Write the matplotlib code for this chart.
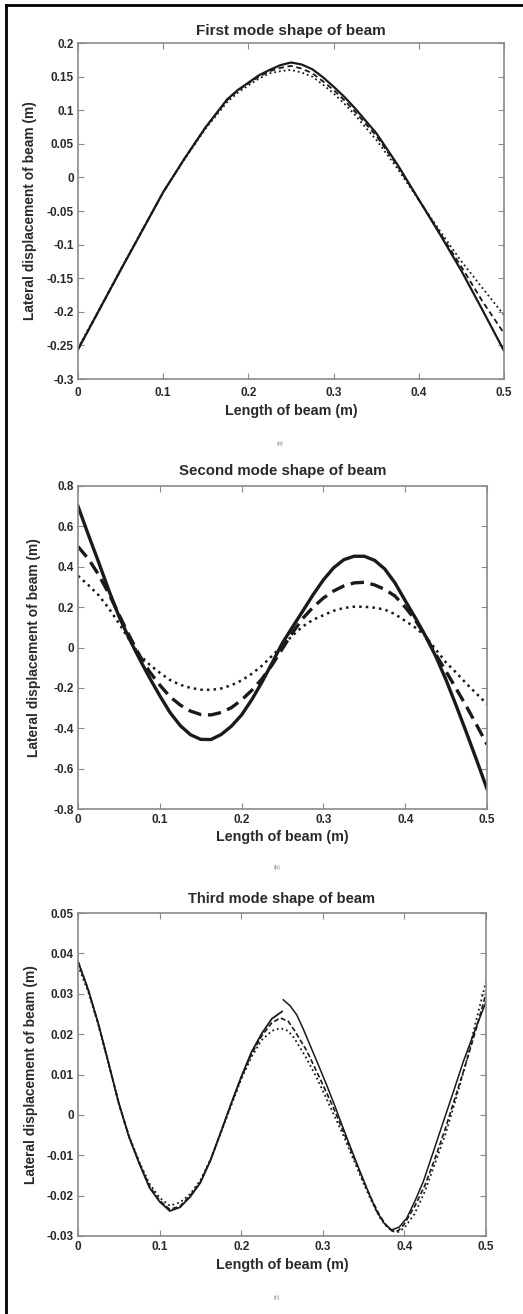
import matplotlib
matplotlib.use('Agg')
import matplotlib.pyplot as plt
from matplotlib.lines import Line2D

plt.rcParams['font.family'] = ['Liberation Sans', 'DejaVu Sans']
plt.rcParams['axes.unicode_minus'] = False

# ---- data ----
# (a) first mode
x_a = [0, 0.025, 0.05, 0.075, 0.1, 0.125, 0.15, 0.175, 0.1875, 0.2, 0.2125, 0.225, 0.2375, 0.25,
       0.2625, 0.275, 0.2875, 0.3, 0.3125, 0.325, 0.35, 0.375, 0.4, 0.425, 0.45, 0.475, 0.5]
a_solid = [-0.256, -0.197, -0.138, -0.080, -0.022, 0.028, 0.075, 0.116, 0.130, 0.141, 0.152, 0.160, 0.167, 0.171,
           0.168, 0.161, 0.149, 0.135, 0.120, 0.103, 0.066, 0.019, -0.033, -0.085, -0.139, -0.198, -0.258]
a_dash = [-0.256, -0.197, -0.138, -0.080, -0.022, 0.028, 0.075, 0.115, 0.129, 0.140, 0.150, 0.158, 0.163, 0.166,
          0.162, 0.155, 0.143, 0.130, 0.115, 0.098, 0.062, 0.017, -0.033, -0.083, -0.133, -0.185, -0.232]
a_dot = [-0.254, -0.196, -0.137, -0.079, -0.022, 0.027, 0.073, 0.112, 0.126, 0.137, 0.147, 0.155, 0.158, 0.160,
         0.156, 0.150, 0.138, 0.125, 0.110, 0.093, 0.056, 0.013, -0.034, -0.080, -0.125, -0.165, -0.205]

# (b) second mode
x_b = [0, 0.0125, 0.025, 0.0375, 0.05, 0.0625, 0.075, 0.0875, 0.1, 0.1125, 0.125, 0.1375, 0.15, 0.1625,
       0.175, 0.1875, 0.2, 0.2125, 0.225, 0.2375, 0.25, 0.2625, 0.275, 0.2875, 0.3, 0.3125, 0.325, 0.3375,
       0.35, 0.3625, 0.375, 0.3875, 0.4, 0.4125, 0.425, 0.4375, 0.45, 0.4625, 0.475, 0.4875, 0.5]
b_solid = [0.70, 0.56, 0.425, 0.285, 0.155, 0.045, -0.055, -0.15, -0.239, -0.322, -0.387, -0.432, -0.455, -0.456,
           -0.431, -0.39, -0.334, -0.258, -0.171, -0.075, 0.023, 0.103, 0.182, 0.262, 0.335, 0.395, 0.435, 0.452,
           0.452, 0.432, 0.389, 0.32, 0.232, 0.146, 0.056, -0.045, -0.161, -0.29, -0.423, -0.56, -0.70]
b_dash = [0.50, 0.44, 0.362, 0.268, 0.164, 0.06, -0.038, -0.12, -0.186, -0.244, -0.285, -0.315, -0.332, -0.334,
          -0.322, -0.298, -0.26, -0.212, -0.155, -0.085, -0.005, 0.075, 0.145, 0.2, 0.245, 0.28, 0.305, 0.32,
          0.323, 0.31, 0.288, 0.255, 0.2, 0.135, 0.055, -0.035, -0.119, -0.205, -0.293, -0.385, -0.48]
b_dot = [0.355, 0.31, 0.26, 0.195, 0.12, 0.04, -0.035, -0.085, -0.125, -0.161, -0.185, -0.2, -0.209, -0.21,
         -0.203, -0.187, -0.163, -0.13, -0.09, -0.04, 0.01, 0.06, 0.105, 0.138, 0.16, 0.182, 0.196, 0.202,
         0.202, 0.197, 0.188, 0.165, 0.132, 0.098, 0.055, -0.01, -0.075, -0.125, -0.18, -0.23, -0.28]

# (c) third mode (solid trace is broken at x = 0.25)
x_c_left = [0, 0.0125, 0.025, 0.0375, 0.05, 0.0625, 0.075, 0.0875, 0.1, 0.1125, 0.125, 0.1375, 0.15, 0.1625,
            0.175, 0.1875, 0.2, 0.2125, 0.225, 0.2375, 0.25]
c_solid_left = [0.038, 0.031, 0.0225, 0.0128, 0.0029, -0.0055, -0.012, -0.018, -0.0215, -0.0238, -0.0229, -0.0203,
                -0.0168, -0.0112, -0.0043, 0.0027, 0.0094, 0.0155, 0.0201, 0.0238, 0.0256]
x_c_right = [0.2516, 0.26, 0.268, 0.276, 0.2843, 0.2945, 0.3047, 0.315, 0.325, 0.3353, 0.3456, 0.356, 0.366,
             0.375, 0.3844, 0.3935, 0.4028, 0.413, 0.4232, 0.4355, 0.4477, 0.46, 0.4722, 0.486, 0.5]
c_solid_right = [0.0285, 0.027, 0.0248, 0.0213, 0.0173, 0.0124, 0.0074, 0.0021, -0.0033, -0.0087, -0.014, -0.0192,
                 -0.0239, -0.0268, -0.0285, -0.0278, -0.0256, -0.0213, -0.0165, -0.0091, -0.0017, 0.0057, 0.0132,
                 0.0207, 0.028]
x_c = [0, 0.0125, 0.025, 0.0375, 0.05, 0.0625, 0.075, 0.0875, 0.1, 0.1125, 0.125, 0.1375, 0.15, 0.1625,
       0.175, 0.1875, 0.2, 0.2125, 0.225, 0.2375, 0.248, 0.2575, 0.265, 0.28, 0.29, 0.3, 0.3125, 0.325,
       0.3375, 0.35, 0.36, 0.37, 0.3775, 0.385, 0.3925, 0.4, 0.4125, 0.425, 0.4375, 0.45, 0.4625, 0.475,
       0.4875, 0.5]
c_dash = [0.038, 0.031, 0.0225, 0.0128, 0.0029, -0.0053, -0.0118, -0.0176, -0.0212, -0.0234, -0.0226, -0.0200,
          -0.0166, -0.0111, -0.0043, 0.0026, 0.0092, 0.0150, 0.0195, 0.0228, 0.0240, 0.0232, 0.021, 0.016,
          0.0118, 0.0075, 0.002, -0.004, -0.0103, -0.0165, -0.021, -0.025, -0.0273, -0.0288, -0.0287, -0.027,
          -0.0227, -0.0175, -0.0108, -0.0035, 0.0045, 0.0125, 0.021, 0.030]
c_dot = [0.037, 0.0305, 0.0222, 0.0126, 0.0027, -0.0052, -0.0116, -0.0170, -0.0205, -0.0225, -0.0217, -0.0196,
         -0.0162, -0.0110, -0.0045, 0.0022, 0.0088, 0.0143, 0.0185, 0.0208, 0.0215, 0.0208, 0.019, 0.014,
         0.0102, 0.006, 0.0005, -0.005, -0.011, -0.017, -0.0215, -0.0255, -0.0275, -0.0288, -0.029, -0.028,
         -0.0245, -0.019, -0.012, -0.005, 0.0035, 0.0125, 0.023, 0.033]

xticks = [0, 0.1, 0.2, 0.3, 0.4, 0.5]
xtick_labels = ['0', '0.1', '0.2', '0.3', '0.4', '0.5']
yticks_a = [-0.3, -0.25, -0.2, -0.15, -0.1, -0.05, 0, 0.05, 0.1, 0.15, 0.2]
ytick_labels_a = ['-0.3', '-0.25', '-0.2', '-0.15', '-0.1', '-0.05', '0', '0.05', '0.1', '0.15', '0.2']
yticks_b = [-0.8, -0.6, -0.4, -0.2, 0, 0.2, 0.4, 0.6, 0.8]
ytick_labels_b = ['-0.8', '-0.6', '-0.4', '-0.2', '0', '0.2', '0.4', '0.6', '0.8']
yticks_c = [-0.03, -0.02, -0.01, 0, 0.01, 0.02, 0.03, 0.04, 0.05]
ytick_labels_c = ['-0.03', '-0.02', '-0.01', '0', '0.01', '0.02', '0.03', '0.04', '0.05']

titles = ['First mode shape of beam', 'Second mode shape of beam', 'Third mode shape of beam']
captions = ['(a)', '(b)', '(c)']

W, H = 523, 1314
fig = plt.figure(figsize=(W / 100, H / 100), dpi=100)

def px_box(left, top, right, bottom):
    return [left / W, 1 - bottom / H, (right - left) / W, (bottom - top) / H]

line_c = '#1a1a1a'
spine_c = '#8a8a8a'
text_c = '#2a2a2a'

def style(ax, yticks, ylabels, ylim, title, title_size, title_pad, xpad, xl_y, yl_x):
    ax.set_xlim(0, 0.5)
    ax.set_ylim(*ylim)
    ax.set_xticks(xticks)
    ax.set_xticklabels(xtick_labels)
    ax.set_yticks(yticks)
    ax.set_yticklabels(ylabels)
    ax.tick_params(direction='in', length=4, width=0.8, color=spine_c, top=True, right=True,
                   labelsize=8.5, labelcolor=text_c)
    ax.tick_params(axis='x', pad=xpad)
    ax.tick_params(axis='y', pad=3)
    for lbl in ax.get_xticklabels() + ax.get_yticklabels():
        lbl.set_fontweight('bold')
    for s in ax.spines.values():
        s.set_color(spine_c)
        s.set_linewidth(1.2)
    ax.set_title(title, fontsize=title_size, fontweight='bold', color=text_c, pad=title_pad)
    ax.set_xlabel('Length of beam (m)', fontsize=10.3, fontweight='bold', color=text_c)
    ax.set_ylabel('Lateral displacement of beam (m)', fontsize=9.9, fontweight='bold', color=text_c)
    ax.xaxis.set_label_coords(0.5, xl_y)
    ax.yaxis.set_label_coords(yl_x, 0.5)

# (a)
ax1 = fig.add_axes(px_box(78, 43, 504, 379))
ax1.plot(x_a, a_dot, ':', color=line_c, lw=1.3)
ax1.plot(x_a, a_dash, '--', color=line_c, lw=1.3, dashes=(3, 2))
ax1.plot(x_a, a_solid, '-', color=line_c, lw=1.6)
style(ax1, yticks_a, ytick_labels_a, (-0.3, 0.2), titles[0], 11, 6, 6, -0.074, -0.097)

# (b)
ax2 = fig.add_axes(px_box(78, 486, 487, 809))
ax2.plot(x_b, b_dot, ':', color=line_c, lw=1.8)
ax2.plot(x_b, b_dash, '--', color=line_c, lw=2.4, dashes=(4, 2))
ax2.plot(x_b, b_solid, '-', color=line_c, lw=2.4)
style(ax2, yticks_b, ytick_labels_b, (-0.8, 0.8), titles[1], 10.8, 8, 3.5, -0.065, -0.09)

# (c)
ax3 = fig.add_axes(px_box(78, 913, 486, 1236))
ax3.plot(x_c, c_dot, ':', color=line_c, lw=1.3)
ax3.plot(x_c, c_dash, '--', color=line_c, lw=1.2, dashes=(3, 1.5))
ax3.plot(x_c_left, c_solid_left, '-', color=line_c, lw=1.3)
ax3.plot(x_c_right, c_solid_right, '-', color=line_c, lw=1.1)
style(ax3, yticks_c, ytick_labels_c, (-0.03, 0.05), titles[2], 10.5, 7, 3.5, -0.068, -0.097)

# captions under each panel
for (cx, cy), cap in zip([(280, 443), (277, 867), (277, 1297)], captions):
    fig.text(cx / W, 1 - cy / H, cap, fontsize=4, color='#777777', ha='center', va='center')

# page frame (left and top edges)
fig.add_artist(Line2D([6 / W, 6 / W], [0, 1 - 5 / H], transform=fig.transFigure, color='black', lw=2))
fig.add_artist(Line2D([6 / W, 1], [1 - 5 / H, 1 - 5 / H], transform=fig.transFigure, color='black', lw=2))

fig.savefig('out.png', dpi=100, facecolor='white')
